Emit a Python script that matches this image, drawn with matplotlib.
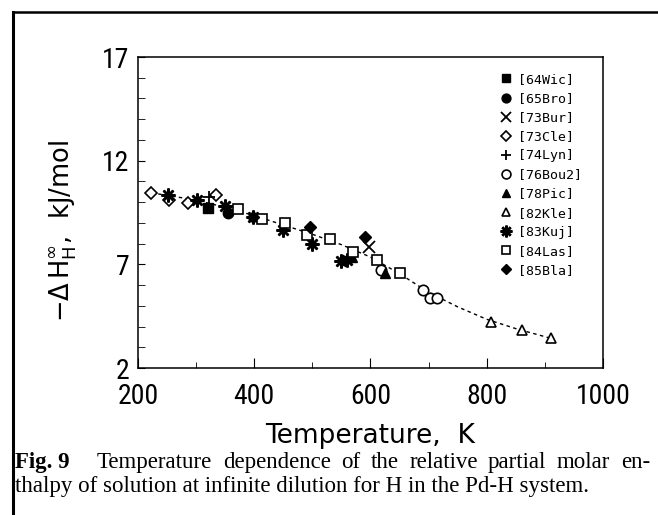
from __future__ import annotations

import matplotlib

matplotlib.use("Agg")
import matplotlib.pyplot as plt
from matplotlib import font_manager
from matplotlib.lines import Line2D
from matplotlib.ticker import MultipleLocator

# data: (temperature K, -dH kJ/mol)
wic64_t = [320]
wic64_h = [9.7]
bro65_t = [355]
bro65_h = [9.5]
bur73_t = [598]
bur73_h = [7.85]
cle73_t = [223, 253, 286, 334]
cle73_h = [10.45, 10.1, 9.95, 10.35]
lyn74_t = [322]
lyn74_h = [10.25]
bou76_t = [618, 690, 703, 714]
bou76_h = [6.75, 5.75, 5.4, 5.4]
pic78_t = [568, 625]
pic78_h = [7.35, 6.6]
kle82_t = [808, 860, 911]
kle82_h = [4.23, 3.83, 3.43]
kuj83_t = [252, 301, 350, 398, 450, 499, 550, 560]
kuj83_h = [10.35, 10.1, 9.8, 9.3, 8.65, 8.0, 7.15, 7.2]
las84_t = [372, 413, 453, 491, 530, 570, 611, 651]
las84_h = [9.65, 9.2, 9.0, 8.4, 8.2, 7.6, 7.2, 6.6]
bla85_t = [398, 496, 590]
bla85_h = [9.3, 8.8, 8.3]

# dashed assessed curve
curve_t = [223, 300, 350, 400, 450, 500, 550, 600, 650, 700, 750, 800, 850, 912]
curve_h = [10.45, 10.1, 9.75, 9.35, 8.9, 8.45, 7.95, 7.35, 6.55, 5.65, 4.95, 4.35, 3.9, 3.42]

y_ticks = [2, 7, 12, 17]

caption_1 = "Temperature dependence of the relative partial molar en-"
caption_2 = "thalpy of solution at infinite dilution for H in the Pd-H system."


def pick_font(names, default="DejaVu Sans"):
    for name in names:
        try:
            font_manager.findfont(name, fallback_to_default=False)
            return name
        except ValueError:
            continue
    return default


def justified(fig, text, x0, x1, y, **kw):
    # lay the words out so the line fills x0..x1 (figure pixels)
    renderer = fig.canvas.get_renderer()
    words = text.split()
    arts, widths = [], []
    for w in words:
        t = fig.text(0, 1 - y / 515, w, va="baseline", **kw)
        widths.append(t.get_window_extent(renderer).width)
        arts.append(t)
    gap = (x1 - x0 - sum(widths)) / (len(words) - 1)
    x = x0
    for t, wd in zip(arts, widths):
        t.set_x(x / 658)
        x += wd + gap


cond = pick_font(["Liberation Sans Narrow", "DejaVu Sans Condensed", "Roboto Condensed"])
plt.rcParams["font.family"] = [cond, "DejaVu Sans"]

fig = plt.figure(figsize=(6.58, 5.15), dpi=100)
ax = fig.add_axes([0.2097, 0.2854, 0.7067, 0.6039])

ax.plot(curve_t, curve_h, ls=(0, (2.5, 2.5)), color="black", lw=1.0, zorder=1)

open_kw = dict(ls="none", mfc="white", mec="black", mew=1.2, ms=7.5)
fill_kw = dict(ls="none", color="black", ms=7.5)
series = [
    (wic64_t, wic64_h, "[64Wic]", dict(marker="s", **fill_kw)),
    (bro65_t, bro65_h, "[65Bro]", dict(marker="o", **fill_kw)),
    (bur73_t, bur73_h, "[73Bur]", dict(marker="x", ls="none", color="black", ms=8, mew=1.3)),
    (cle73_t, cle73_h, "[73Cle]", dict(marker="D", **{**open_kw, "ms": 6.5})),
    (lyn74_t, lyn74_h, "[74Lyn]", dict(marker="+", ls="none", color="black", ms=9, mew=1.3)),
    (bou76_t, bou76_h, "[76Bou2]", dict(marker="o", **open_kw)),
    (pic78_t, pic78_h, "[78Pic]", dict(marker="^", **fill_kw)),
    (kle82_t, kle82_h, "[82Kle]", dict(marker="^", **open_kw)),
    (kuj83_t, kuj83_h, "[83Kuj]", dict(marker=(8, 2, 0), ls="none", color="black", ms=10, mew=1.8)),
    (las84_t, las84_h, "[84Las]", dict(marker="s", **open_kw)),
    (bla85_t, bla85_h, "[85Bla]", dict(marker="D", **{**fill_kw, "ms": 6.5})),
]

handles = []
for t, h, label, kw in series:
    ax.plot(t, h, zorder=3, **kw)
    hk = dict(kw)
    hk["ms"] = kw["ms"] * 0.85
    handles.append(Line2D([], [], label=label, **hk))

ax.set_xlim(200, 1000)
ax.set_ylim(2, 17)
ax.xaxis.set_major_locator(MultipleLocator(200))
ax.xaxis.set_minor_locator(MultipleLocator(100))
ax.set_yticks(y_ticks)
ax.yaxis.set_minor_locator(MultipleLocator(1))
ax.tick_params(which="both", direction="in", top=False, right=False, labelsize=20)
ax.tick_params(axis="x", which="major", length=7, pad=11)
ax.tick_params(axis="x", which="minor", length=4)
ax.tick_params(axis="y", which="major", length=5, pad=6)
ax.tick_params(axis="y", which="minor", length=5)
for s in ax.spines.values():
    s.set_linewidth(1.1)

ax.set_xlabel("Temperature,  K", fontsize=19, family="DejaVu Sans", labelpad=9)
ax.set_ylabel(r"$-\Delta\,\mathrm{H}^{\infty}_{\mathrm{H}}$,  kJ/mol", fontsize=18.5,
              family="DejaVu Sans")
ax.yaxis.set_label_coords(-0.127, 0.44)

ax.legend(handles=handles, loc="upper right", bbox_to_anchor=(0.975, 0.978), frameon=False,
          prop={"family": "DejaVu Sans Mono", "size": 9.5}, handlelength=1.0,
          handletextpad=0.4, labelspacing=0.46, borderaxespad=0.3)

# frame around the figure panel (left and top edges only)
fig.add_artist(Line2D([13 / 658, 13 / 658], [0, 1 - 12 / 515], color="black", lw=2.2,
                      transform=fig.transFigure))
fig.add_artist(Line2D([13 / 658, 1], [1 - 12 / 515, 1 - 12 / 515], color="black", lw=1.8,
                      transform=fig.transFigure))

cap = {"family": "Liberation Serif", "size": 16.5}
fig.text(15 / 658, 1 - 468 / 515, "Fig. 9", fontweight="bold", va="baseline", **cap)
justified(fig, caption_1, 97, 650, 468, **cap)
fig.text(15 / 658, 1 - 492 / 515, caption_2, va="baseline", **cap)

fig.savefig("out.png", dpi=100)
plt.close(fig)
